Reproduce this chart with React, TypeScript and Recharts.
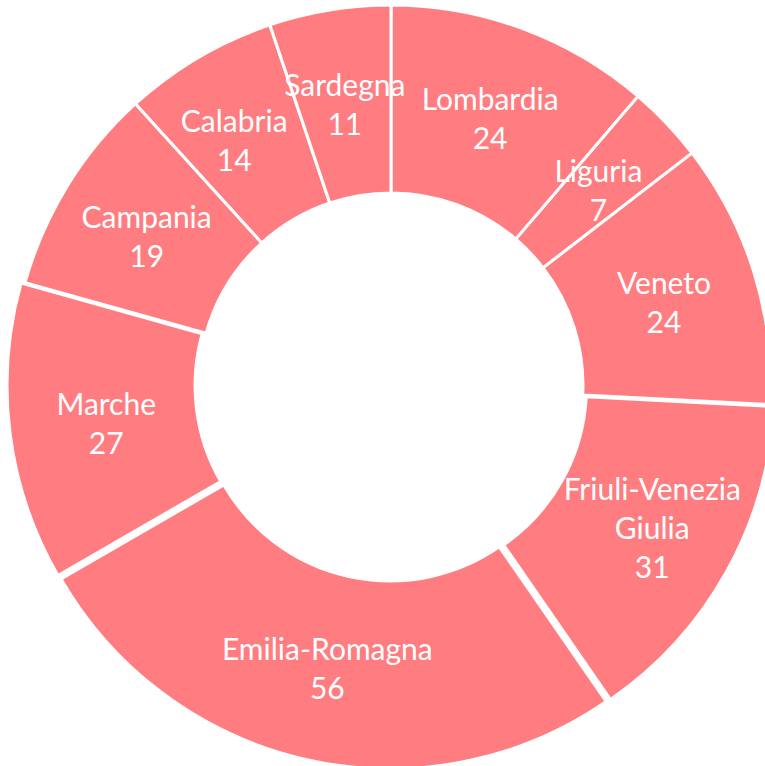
import React from "react";
import { PieChart, Pie, Cell } from "recharts";

const regions = [
  "Lombardia",
  "Liguria",
  "Veneto",
  "Friuli-Venezia Giulia",
  "Emilia-Romagna",
  "Marche",
  "Campania",
  "Calabria",
  "Sardegna",
];
const values = [24, 7, 24, 31, 56, 27, 19, 14, 11];
const labelLines = [
  ["Lombardia"],
  ["Liguria"],
  ["Veneto"],
  ["Friuli-Venezia", "Giulia"],
  ["Emilia-Romagna"],
  ["Marche"],
  ["Campania"],
  ["Calabria"],
  ["Sardegna"],
];
const exploded = [false, false, false, true, true, true, false, false, false];

const data = regions.map((name, i) => ({ name, value: values[i] }));

// style: small label nudges (dx, dy) in px
const LABEL_NUDGE: [number, number][] = [
  [0, 1], [0, 1], [0, 2], [8, 1], [0, 0], [3, 1], [-1, 1], [-12, 1], [0, 1],
];

const W = 765;
const H = 766;
const CX = 391;
const CY = 385;
const INNER = 192;
const OUTER = 380;
const EXPLODE = 4;
const FILL = "#FF7C80";
const RAD = Math.PI / 180;
const FONT = "Lato, 'Noto Sans', sans-serif";
const FONT_SIZE = 30;
const LINE_H = 39;

const total = values.reduce((a, b) => a + b, 0);
const midAngles = values.map((v, i) => {
  const before = values.slice(0, i).reduce((a, b) => a + b, 0);
  return 90 - ((before + v / 2) / total) * 360;
});

const makeLabel = (target: number[]) => (props: any) => {
  const { cx, cy, midAngle, innerRadius, outerRadius, index } = props;
  if (!target.includes(index)) return null;
  const r = (innerRadius + outerRadius) / 2;
  const x = cx + r * Math.cos(-midAngle * RAD) + LABEL_NUDGE[index][0];
  const y = cy + r * Math.sin(-midAngle * RAD) + LABEL_NUDGE[index][1];
  const lines = [...labelLines[index], String(values[index])];
  const start = y - ((lines.length - 1) * LINE_H) / 2;
  return (
    <text
      x={x}
      y={y}
      fill="#FFFFFF"
      textAnchor="middle"
      fontFamily={FONT}
      fontSize={FONT_SIZE}
    >
      {lines.map((ln, k) => (
        <tspan key={k} x={x} y={start + k * LINE_H} dominantBaseline="central">
          {ln}
        </tspan>
      ))}
    </text>
  );
};

const baseIdx = regions.map((_, i) => i).filter((i) => !exploded[i]);
const explIdx = regions.map((_, i) => i).filter((i) => exploded[i]);

export default function App() {
  return (
    <div style={{ position: "absolute", left: 0, top: 0, width: W, height: H, background: "#fff" }}>
      <PieChart width={W} height={H} margin={{ top: 0, right: 0, bottom: 0, left: 0 }}>
        <Pie
          data={data}
          dataKey="value"
          nameKey="name"
          cx={CX}
          cy={CY}
          innerRadius={INNER}
          outerRadius={OUTER}
          startAngle={90}
          endAngle={-270}
          stroke="#FFFFFF"
          strokeWidth={3}
          isAnimationActive={false}
          labelLine={false}
          label={makeLabel(baseIdx)}
        >
          {data.map((d, i) => (
            <Cell
              key={d.name}
              fill={exploded[i] ? "none" : FILL}
              stroke={exploded[i] ? "none" : "#FFFFFF"}
            />
          ))}
        </Pie>
        {explIdx.map((ei) => (
          <Pie
            key={regions[ei]}
            data={data}
            dataKey="value"
            nameKey="name"
            cx={CX + EXPLODE * Math.cos(midAngles[ei] * RAD)}
            cy={CY - EXPLODE * Math.sin(midAngles[ei] * RAD)}
            innerRadius={INNER}
            outerRadius={OUTER}
            startAngle={90}
            endAngle={-270}
            stroke="#FFFFFF"
            strokeWidth={3}
            isAnimationActive={false}
            labelLine={false}
            label={makeLabel([ei])}
          >
            {data.map((d, i) => (
              <Cell
                key={d.name}
                fill={i === ei ? FILL : "none"}
                stroke={i === ei ? "#FFFFFF" : "none"}
              />
            ))}
          </Pie>
        ))}
      </PieChart>
    </div>
  );
}
